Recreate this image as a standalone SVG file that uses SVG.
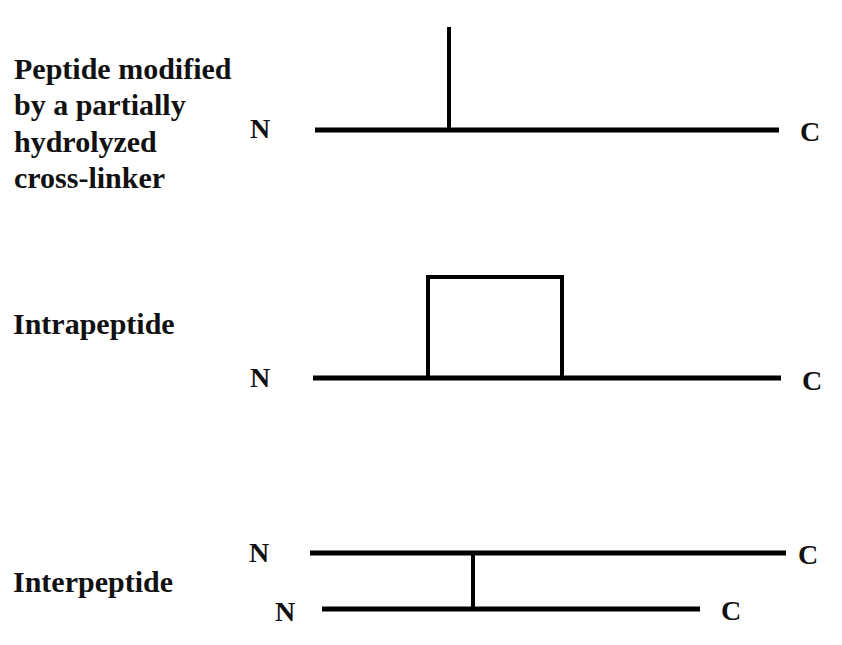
<svg xmlns="http://www.w3.org/2000/svg" width="842" height="645" viewBox="0 0 842 645">
<style>
text{font-family:'Liberation Serif','Times New Roman','DejaVu Serif',serif;font-weight:bold;fill:#111;}
.big{font-size:30px;}
.term{font-size:28px;}
.bb{stroke:#000;stroke-width:5;fill:none;}
.xl{stroke:#000;stroke-width:4;fill:none;}
</style>
<rect width="842" height="645" fill="#fff"/>
<g id="label-partial">
<text class="big" x="14" y="79">Peptide modified</text>
<text class="big" x="14" y="115">by a partially</text>
<text class="big" x="14" y="152">hydrolyzed</text>
<text class="big" x="14" y="188">cross-linker</text>
</g>
<g id="label-intra"><text class="big" x="13" y="334">Intrapeptide</text></g>
<g id="label-inter"><text class="big" x="13" y="592">Interpeptide</text></g>
<g id="peptide1">
<line class="bb" x1="315" y1="130" x2="779" y2="130"/>
<text class="term" x="250" y="138">N</text>
<text class="term" x="800" y="141">C</text>
</g>
<g id="peptide2">
<line class="bb" x1="313" y1="378" x2="781" y2="378"/>
<text class="term" x="250" y="387">N</text>
<text class="term" x="802" y="390">C</text>
</g>
<g id="peptide3a">
<line class="bb" x1="310" y1="553" x2="786" y2="553"/>
<text class="term" x="249" y="562">N</text>
<text class="term" x="798" y="564">C</text>
</g>
<g id="peptide3b">
<line class="bb" x1="322" y1="609" x2="700" y2="609"/>
<text class="term" x="275" y="621">N</text>
<text class="term" x="721" y="620">C</text>
</g>
<g id="connectors">
<line class="xl" x1="449" y1="27" x2="449" y2="130"/>
<polyline class="xl" points="428,378 428,277 562,277 562,378"/>
<line class="xl" x1="473" y1="553" x2="473" y2="609"/>
</g>
</svg>
